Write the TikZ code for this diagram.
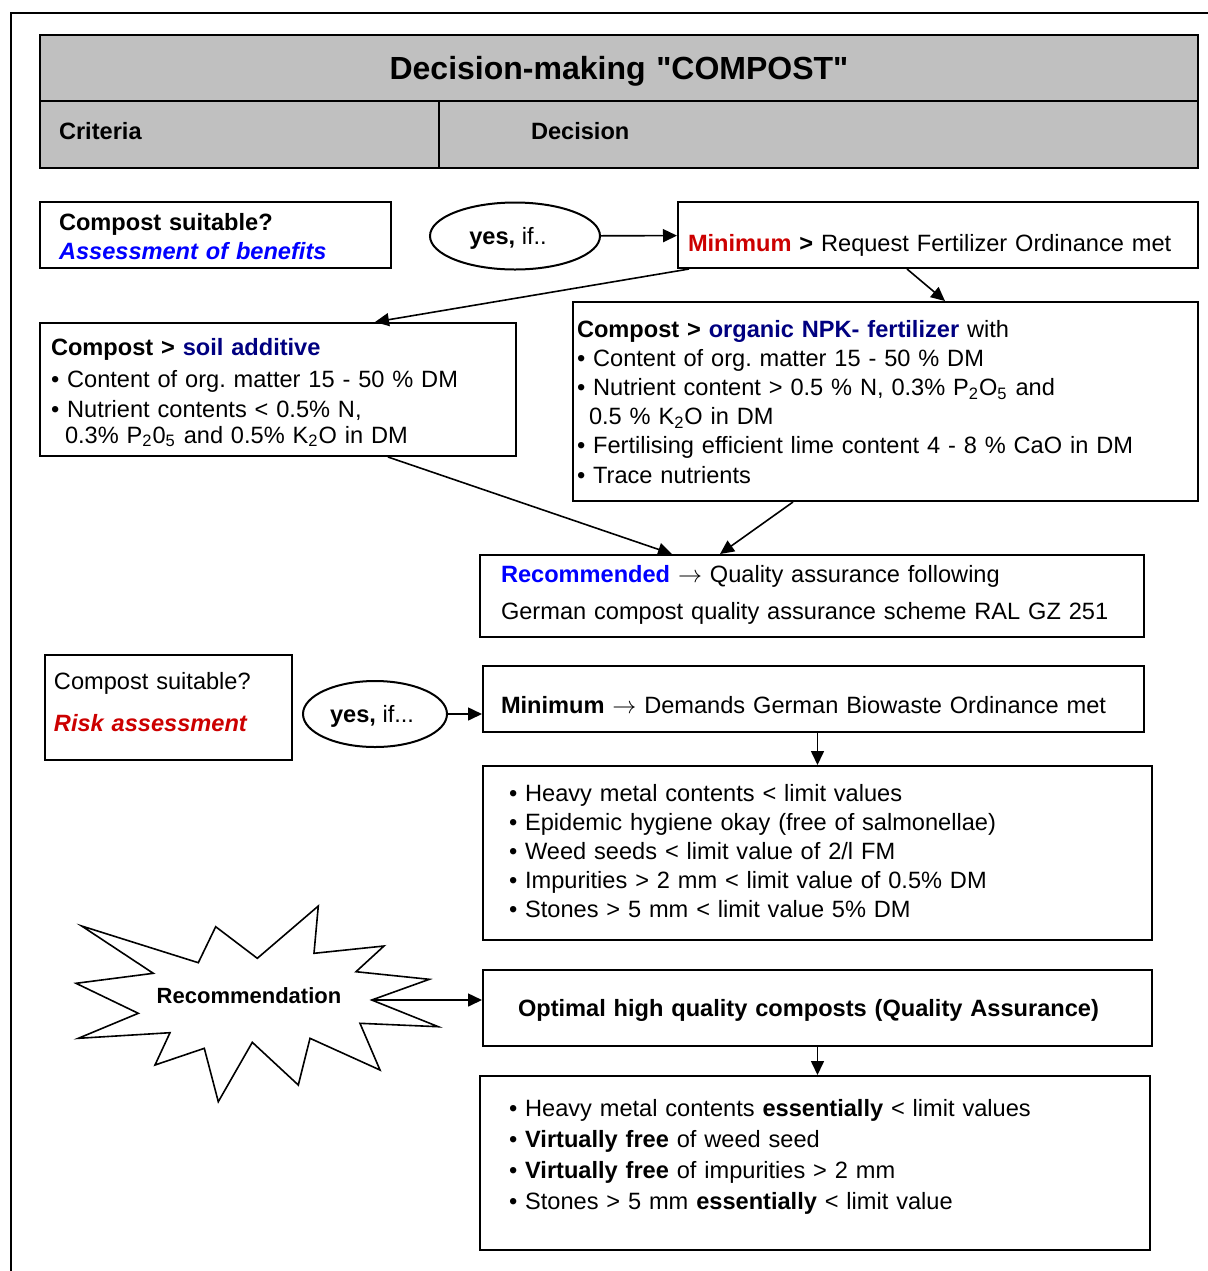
\documentclass[tikz,border=0pt]{standalone}
\usepackage{fontspec}
\setmainfont{Liberation Sans}[Ligatures=TeXOff]
\usetikzlibrary{shapes.geometric,arrows.meta}
\definecolor{hdrgray}{RGB}{192,192,192}
\definecolor{minred}{RGB}{204,0,0}
\definecolor{navy}{RGB}{0,0,128}
\definecolor{pureblue}{RGB}{0,0,255}
\frenchspacing

\begin{document}
\begin{tikzpicture}[x=0.5pt,y=-0.5pt,font=\fontsize{11.8pt}{14.6pt}\selectfont,
  box/.style={draw,line width=1pt,rectangle,inner sep=0pt,align=left,text height=0pt,text depth=0pt},
  oval/.style={draw,line width=1pt,ellipse,inner sep=0pt,text height=8pt,text depth=0pt},
  arr/.style={-{Triangle[length=7pt,width=6.5pt]},line width=0.8pt}]

  \useasboundingbox (0,0) rectangle (1208,1271);
  \draw[line width=1.2pt] (1208,13) -- (11,13) -- (11,1271);

  % header
  \node[box,fill=hdrgray,minimum width=579pt,minimum height=33pt,text width=579pt,align=center,
        text height=11.5pt,font=\bfseries\fontsize{16pt}{19pt}\selectfont] (title) at (619,68) {Decision-making "COMPOST"};
  \node[box,fill=hdrgray,minimum width=199.5pt,minimum height=33.5pt,text width=180.5pt,
        text height=4.5pt,font=\bfseries\fontsize{11.8pt}{14.6pt}\selectfont] (crit) at (239.5,134.5) {Criteria};
  \node[box,fill=hdrgray,minimum width=379.5pt,minimum height=33.5pt,text width=287.5pt,
        text height=4.5pt,font=\bfseries\fontsize{11.8pt}{14.6pt}\selectfont] (dec) at (818.5,134.5) {Decision};

  % benefits
  \node[box,minimum width=175.5pt,minimum height=33pt,text width=156.5pt,text depth=5pt] (bene) at (215.5,235)
    {\textbf{Compost suitable?}\\{\bfseries\itshape\color{pureblue}Assessment of benefits}};
  \node[oval,minimum width=85pt,minimum height=33.5pt] (yes1) at (515,236) {\textbf{yes,} if..\hspace*{7pt}};
  \node[box,minimum width=260pt,minimum height=33pt,text width=250pt,text height=16pt] (min1) at (938,235)
    {{\bfseries\color{minred}Minimum} \textbf{>} Request Fertilizer Ordinance met};

  \node[box,minimum width=238pt,minimum height=66.5pt,text width=227pt,text depth=34.5pt] (soil) at (278,389.5)
    {\textbf{Compost >} {\bfseries\color{navy}soil additive}\\[1.4pt]
     • Content of org. matter 15 - 50 \% DM\\[0.4pt]
     • Nutrient contents < 0.5\% N,\\[-1.6pt]
     \hspace*{7pt}0.3\% P\textsubscript{2}0\textsubscript{5} and 0.5\% K\textsubscript{2}O in DM};
  \node[box,minimum width=312.5pt,minimum height=99.5pt,text width=308.5pt,text depth=64.5pt] (npk) at (885.5,401.5)
    {\textbf{Compost >} {\bfseries\color{navy}organic NPK- fertilizer} with\\
     • Content of org. matter 15 - 50 \% DM\\
     • Nutrient content > 0.5 \% N, 0.3\% P\textsubscript{2}O\textsubscript{5} and\\
     \hspace*{6pt}0.5 \% K\textsubscript{2}O in DM\\
     • Fertilising efficient lime content 4 - 8 \% CaO in DM\\
     • Trace nutrients};
  \node[box,minimum width=332pt,minimum height=41pt,text width=311pt,text depth=14pt] (rec) at (812,596)
    {{\bfseries\color{pureblue}Recommended} $\rightarrow$ Quality assurance following\\[3.9pt]
     German compost quality assurance scheme RAL GZ 251};

  \draw[arr] (yes1) -- (min1);
  \draw[arr] ([xshift=6pt]min1.south west) -- ([xshift=48.5pt]soil.north);
  \draw[arr] ([xshift=-15.5pt]min1.south) -- ([xshift=29.75pt]npk.north);
  \draw[arr] ([xshift=55pt]soil.south) -- ([xshift=-70pt]rec.north);
  \draw[arr] ([xshift=-46.25pt]npk.south) -- ([xshift=-46pt]rec.north);

  % risk
  \node[box,minimum width=123.5pt,minimum height=52.5pt,text width=114.5pt,text depth=18.5pt] (risk) at (168.5,707.5)
    {Compost suitable?\\[6.4pt]{\bfseries\itshape\color{minred}Risk assessment}};
  \node[oval,minimum width=72pt,minimum height=33pt] (yes2) at (375,714) {\textbf{yes,} if...\hspace*{3pt}};
  \node[box,minimum width=330.5pt,minimum height=33pt,text width=312.5pt,text height=14pt] (min2) at (813.5,699)
    {\textbf{Minimum} $\rightarrow$ Demands German Biowaste Ordinance met};
  \node[box,minimum width=334.5pt,minimum height=87pt,text width=308.5pt,text depth=52pt] (heavy) at (817.5,853)
    {• Heavy metal contents < limit values\\
     • Epidemic hygiene okay (free of salmonellae)\\
     • Weed seeds < limit value of 2/l FM\\
     • Impurities > 2 mm < limit value of 0.5\% DM\\
     • Stones > 5 mm < limit value 5\% DM};

  \draw[arr] (yes2.east) -- (yes2.east -| min2.west);
  \draw[arr] (heavy.north |- min2.south) -- (heavy.north);

  % recommendation
  \draw[line width=0.8pt] (81.7,926) -- (198.3,962.7) -- (215.7,926.7) -- (257.3,958.3) -- (318.3,906)
    -- (314,953.3) -- (384,946) -- (356,971.7) -- (429.3,979.3) -- (371.7,1000) -- (438.3,1026.7)
    -- (360,1023.3) -- (380,1070) -- (310,1038.3) -- (298.3,1085) -- (252.3,1042.3) -- (218.3,1101.7)
    -- (204.3,1048.3) -- (155,1065) -- (170,1032.7) -- (78.3,1038.3) -- (138.3,1013.3) -- (76,983.3)
    -- (153.3,973.3) -- cycle;
  \node[inner sep=0pt,text height=8pt,text depth=0pt,font=\bfseries\fontsize{11pt}{13pt}\selectfont] (recom) at (249,995) {Recommendation};
  \coordinate (startip) at (371.7,1000);

  \node[box,minimum width=334.5pt,minimum height=38pt,text width=299.5pt,text height=8pt] (opt) at (817.5,1008)
    {\textbf{Optimal high quality composts (Quality Assurance)}};
  \node[box,minimum width=335pt,minimum height=87pt,text width=306pt,text depth=47pt] (bot) at (815,1163)
    {• Heavy metal contents \textbf{essentially} < limit values\\[0.9pt]
     • \textbf{Virtually free} of weed seed\\[0.9pt]
     • \textbf{Virtually free} of impurities > 2 mm\\[0.9pt]
     • Stones > 5 mm \textbf{essentially} < limit value};

  \draw[arr] (startip) -- (startip -| opt.west);
  \draw[arr] (opt.south) -- (opt.south |- bot.north);

\end{tikzpicture}
\end{document}
